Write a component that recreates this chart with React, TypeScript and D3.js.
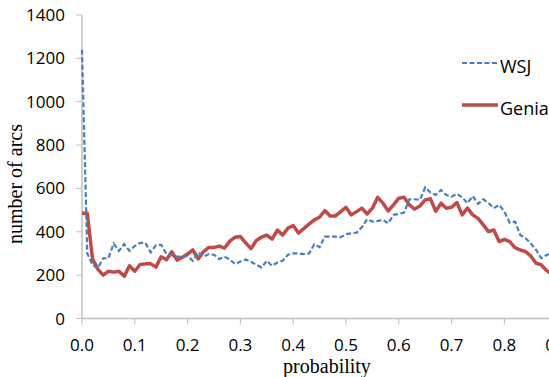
import React, { useEffect, useRef } from "react"
import * as d3 from "d3"

// bins on the x axis (chart is cropped on the right, a bit after 0.88)
const probability = [
  0.00, 0.01, 0.02, 0.03, 0.04, 0.05, 0.06, 0.07, 0.08, 0.09,
  0.10, 0.11, 0.12, 0.13, 0.14, 0.15, 0.16, 0.17, 0.18, 0.19,
  0.20, 0.21, 0.22, 0.23, 0.24, 0.25, 0.26, 0.27, 0.28, 0.29,
  0.30, 0.31, 0.32, 0.33, 0.34, 0.35, 0.36, 0.37, 0.38, 0.39,
  0.40, 0.41, 0.42, 0.43, 0.44, 0.45, 0.46, 0.47, 0.48, 0.49,
  0.50, 0.51, 0.52, 0.53, 0.54, 0.55, 0.56, 0.57, 0.58, 0.59,
  0.60, 0.61, 0.62, 0.63, 0.64, 0.65, 0.66, 0.67, 0.68, 0.69,
  0.70, 0.71, 0.72, 0.73, 0.74, 0.75, 0.76, 0.77, 0.78, 0.79,
  0.80, 0.81, 0.82, 0.83, 0.84, 0.85, 0.86, 0.87, 0.88, 0.89,
  0.90,
]

const wsj = [
  1240, 300, 246, 232, 278, 278, 346, 312, 343, 312,
  335, 349, 349, 305, 338, 340, 297, 291, 285, 285,
  289, 266, 305, 285, 297, 294, 274, 285, 272, 251,
  263, 272, 262, 248, 235, 266, 243, 258, 266, 294,
  300, 300, 297, 300, 343, 329, 378, 378, 378, 375,
  389, 393, 396, 421, 458, 447, 450, 455, 439, 478,
  482, 489, 550, 550, 547, 605, 581, 570, 593, 570,
  562, 575, 559, 532, 565, 529, 550, 532, 509, 524,
  493, 442, 447, 385, 370, 347, 316, 278, 293, 300,
  290,
]

const genia = [
  486, 486, 274, 228, 200, 218, 214, 218, 195, 243,
  218, 249, 252, 252, 237, 285, 271, 308, 269, 283,
  297, 317, 275, 308, 328, 328, 334, 325, 357, 375,
  378, 349, 322, 360, 375, 385, 366, 408, 385, 417,
  429, 394, 415, 435, 455, 467, 498, 473, 473, 493,
  513, 478, 493, 509, 482, 509, 559, 532, 496, 524,
  555, 559, 524, 505, 519, 547, 552, 495, 532, 509,
  513, 535, 478, 509, 478, 462, 432, 401, 408, 355,
  365, 355, 327, 316, 309, 288, 255, 247, 221, 205,
  190,
]

const xTicks = [0, 0.1, 0.2, 0.3, 0.4, 0.5, 0.6, 0.7, 0.8, 0.9]
const yTicks = [0, 200, 400, 600, 800, 1000, 1200, 1400]

const W = 549
const H = 377
const axisColor = "#bfbfbf"
const labelFont = "'Open Sans', sans-serif"
const titleFont = "'Liberation Serif', 'Times New Roman', serif"

export default function App() {
  const ref = useRef<SVGSVGElement>(null)

  useEffect(() => {
    const svg = d3.select(ref.current)
    svg.selectAll("*").remove()

    const x = d3.scaleLinear().domain([0, 1]).range([82, 610])
    const y = d3.scaleLinear().domain([0, 1400]).range([318.5, 15])

    // y axis
    svg.append("line")
      .attr("x1", x(0)).attr("x2", x(0))
      .attr("y1", y(1400)).attr("y2", y(0))
      .attr("stroke", axisColor).attr("stroke-width", 1.5)
    svg.selectAll(".ytick").data(yTicks).enter().append("line")
      .attr("x1", x(0) - 6).attr("x2", x(0))
      .attr("y1", d => y(d)).attr("y2", d => y(d))
      .attr("stroke", axisColor).attr("stroke-width", 1)
    svg.selectAll(".ylab").data(yTicks).enter().append("text")
      .attr("x", 65).attr("y", d => y(d) + 6)
      .attr("text-anchor", "end")
      .attr("font-family", labelFont).attr("font-size", 17)
      .attr("fill", "#000")
      .text(d => d)

    // x axis
    svg.append("line")
      .attr("x1", x(0)).attr("x2", W)
      .attr("y1", y(0)).attr("y2", y(0))
      .attr("stroke", axisColor).attr("stroke-width", 1.5)
    svg.selectAll(".xtick").data(xTicks).enter().append("line")
      .attr("x1", d => x(d)).attr("x2", d => x(d))
      .attr("y1", y(0)).attr("y2", y(0) + 6)
      .attr("stroke", axisColor).attr("stroke-width", 1)
    svg.selectAll(".xlab").data(xTicks).enter().append("text")
      .attr("x", d => x(d)).attr("y", 351)
      .attr("text-anchor", "middle")
      .attr("font-family", labelFont).attr("font-size", 17)
      .attr("fill", "#000")
      .text(d => d3.format(".1f")(d))

    // titles
    svg.append("text")
      .attr("x", 327).attr("y", 373)
      .attr("text-anchor", "middle")
      .attr("font-family", titleFont).attr("font-size", 20)
      .text("probability")
    svg.append("text")
      .attr("transform", "translate(22,184) rotate(-90)")
      .attr("text-anchor", "middle")
      .attr("font-family", titleFont).attr("font-size", 20)
      .text("number of arcs")

    const line = d3.line<number>()
      .x((d, i) => x(probability[i]))
      .y(d => y(d))

    svg.append("path")
      .datum(genia)
      .attr("d", line)
      .attr("fill", "none")
      .attr("stroke", "#be4b48")
      .attr("stroke-width", 3.5)
      .attr("stroke-linejoin", "round")

    svg.append("path")
      .datum(wsj)
      .attr("d", line)
      .attr("fill", "none")
      .attr("stroke", "#4a7ebb")
      .attr("stroke-width", 2.2)
      .attr("stroke-dasharray", "5,2.5")

    // legend
    const legend = [
      { name: "WSJ", color: "#4a7ebb", width: 2.2, dash: "5,2.5", y: 63 },
      { name: "Genia", color: "#be4b48", width: 3.5, dash: null, y: 105 },
    ]
    legend.forEach(l => {
      svg.append("line")
        .attr("x1", 462).attr("x2", 498)
        .attr("y1", l.y).attr("y2", l.y)
        .attr("stroke", l.color).attr("stroke-width", l.width)
        .attr("stroke-dasharray", l.dash)
      svg.append("text")
        .attr("x", 500).attr("y", l.y + 10)
        .attr("font-family", labelFont).attr("font-size", 18)
        .text(l.name)
    })
  }, [])

  return (
    <svg ref={ref} width={W} height={H}
      style={{ position: "absolute", left: 0, top: 0, background: "#fff" }} />
  )
}
